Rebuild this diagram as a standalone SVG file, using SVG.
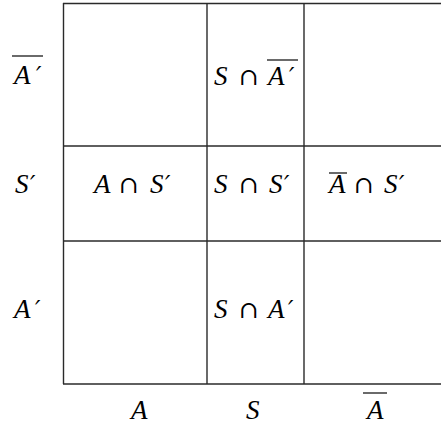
<svg xmlns="http://www.w3.org/2000/svg" width="441" height="427" viewBox="0 0 441 427">
<rect width="441" height="427" fill="#fff"/>
<g id="grid" stroke="#2a2a2a" stroke-width="1.4" fill="none">
<line x1="63" y1="3.5" x2="441" y2="3.5"/>
<line x1="63" y1="146" x2="441" y2="146"/>
<line x1="63" y1="241" x2="441" y2="241"/>
<line x1="63" y1="384" x2="441" y2="384"/>
<line x1="63.5" y1="3" x2="63.5" y2="384"/>
<line x1="207" y1="3" x2="207" y2="384"/>
<line x1="304" y1="3" x2="304" y2="384"/>
</g>
<g id="overlines" stroke="#1a1a1a" stroke-width="1.3">
<line x1="12" y1="56" x2="43" y2="56"/>
<line x1="363" y1="393" x2="387" y2="393"/>
<line x1="267" y1="60" x2="298" y2="60"/>
<line x1="329" y1="173" x2="347" y2="173"/>
</g>
<g id="row-labels" font-size="27" font-style="italic">
<text x="14" y="84" font-family="'Liberation Serif'">A<tspan font-family="'DejaVu Serif'" font-size="24" x="36">′</tspan></text>
<text x="15" y="193" font-family="'Liberation Serif'">S<tspan font-family="'DejaVu Serif'" font-size="24" x="30">′</tspan></text>
<text x="14" y="318" font-family="'Liberation Serif'">A<tspan font-family="'DejaVu Serif'" font-size="24" x="35">′</tspan></text>
</g>
<g id="col-labels">
<text x="131" y="419" style="font-family:'Liberation Serif';font-style:italic;font-size:27px">A</text>
<text x="246" y="419" style="font-family:'Liberation Serif';font-style:italic;font-size:27px">S</text>
<text x="367" y="419" style="font-family:'Liberation Serif';font-style:italic;font-size:27px">A</text>
</g>
<g id="cells" font-size="27" font-style="italic">
<text x="214" y="85" font-family="Liberation Serif">S<tspan x="239" font-family="DejaVu Serif" font-style="normal" font-size="24">∩</tspan><tspan x="268">A</tspan><tspan x="289" font-family="DejaVu Serif" font-size="24">′</tspan></text>
<text x="94" y="193" font-family="Liberation Serif">A<tspan x="119" font-family="DejaVu Serif" font-style="normal" font-size="24">∩</tspan><tspan x="150">S</tspan><tspan x="165" font-family="DejaVu Serif" font-size="24">′</tspan></text>
<text x="214" y="193" font-family="Liberation Serif">S<tspan x="239" font-family="DejaVu Serif" font-style="normal" font-size="24">∩</tspan><tspan x="269">S</tspan><tspan x="284" font-family="DejaVu Serif" font-size="24">′</tspan></text>
<text x="329" y="193" font-family="Liberation Serif">A<tspan x="354" font-family="DejaVu Serif" font-style="normal" font-size="24">∩</tspan><tspan x="384">S</tspan><tspan x="399" font-family="DejaVu Serif" font-size="24">′</tspan></text>
<text x="214" y="318" font-family="Liberation Serif">S<tspan x="239" font-family="DejaVu Serif" font-style="normal" font-size="24">∩</tspan><tspan x="268">A</tspan><tspan x="288" font-family="DejaVu Serif" font-size="24">′</tspan></text>
</g>
</svg>
